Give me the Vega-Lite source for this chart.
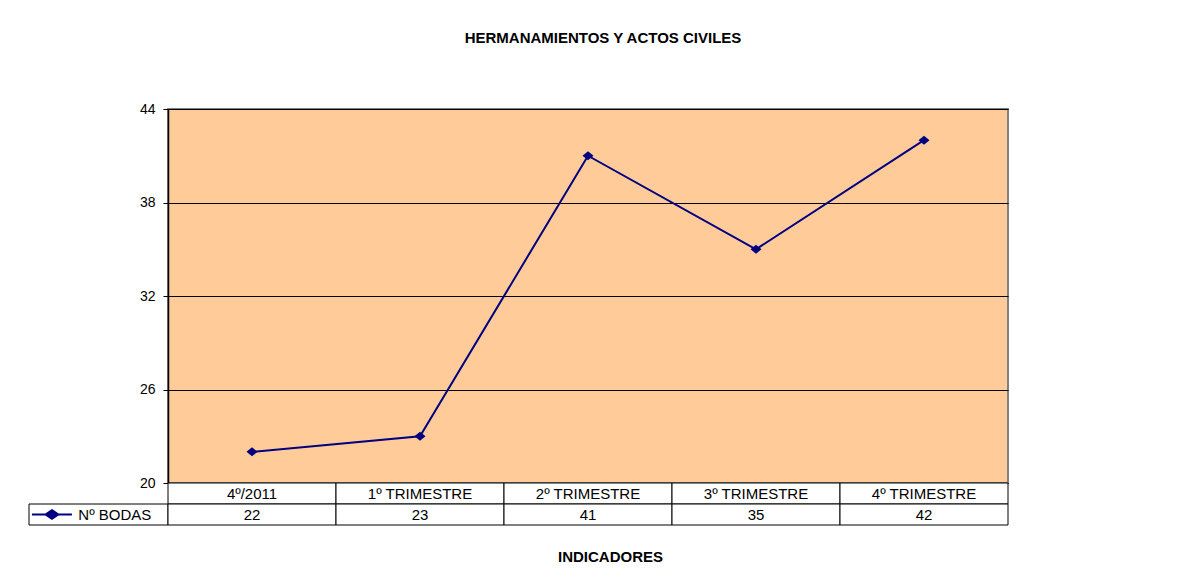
{
  "$schema": "https://vega.github.io/schema/vega-lite/v6.json",
  "autosize": {"type": "pad"},
  "padding": {"left": 27, "top": 30, "right": 20, "bottom": 10},
  "background": "white",
  "datasets": {
    "bodas": [
      {"periodo": "4º/2011", "valor": 22},
      {"periodo": "1º TRIMESTRE", "valor": 23},
      {"periodo": "2º TRIMESTRE", "valor": 41},
      {"periodo": "3º TRIMESTRE", "valor": 35},
      {"periodo": "4º TRIMESTRE", "valor": 42}
    ],
    "leyenda": [{"serie": "Nº BODAS"}]
  },
  "columns": 2,
  "spacing": 0,
  "bounds": "flush",
  "align": "each",
  "concat": [
    {
      "width": 139,
      "height": 374,
      "data": {"values": []},
      "mark": "point",
      "encoding": {}
    },
    {
      "width": 840,
      "height": 374,
      "data": {"name": "bodas"},
      "view": {"fill": "#FFCC99", "stroke": "#808080", "strokeWidth": 2},
      "title": {
        "text": "HERMANAMIENTOS Y ACTOS CIVILES",
        "fontSize": 15,
        "fontWeight": "bold",
        "font": "Liberation Sans",
        "color": "black",
        "anchor": "middle",
        "offset": 56,
        "dx": 15
      },
      "encoding": {
        "x": {
          "field": "periodo",
          "type": "nominal",
          "sort": null,
          "scale": {"type": "point", "padding": 0.5},
          "axis": null
        },
        "y": {
          "field": "valor",
          "type": "quantitative",
          "scale": {"domain": [20, 44], "nice": false, "zero": false},
          "axis": {
            "values": [20, 26, 32, 38, 44],
            "grid": true,
            "gridColor": "black",
            "gridOpacity": 1,
            "gridWidth": 1,
            "domainColor": "black",
            "domainWidth": 1.5,
            "tickColor": "black",
            "tickSize": 5,
            "labelFontSize": 14,
            "labelColor": "black",
            "labelPadding": 8,
            "title": null
          }
        }
      },
      "layer": [
        {"mark": {"type": "line", "color": "#000080", "strokeWidth": 2}},
        {
          "mark": {
            "type": "point",
            "shape": "M0,-0.82L1,0L0,0.82L-1,0Z",
            "size": 121,
            "filled": true,
            "color": "#000080",
            "opacity": 1
          }
        }
      ]
    },
    {
      "width": 139,
      "height": 42,
      "data": {"name": "leyenda"},
      "encoding": {
        "x": {
          "field": "serie",
          "type": "nominal",
          "scale": {"type": "band", "paddingInner": 0, "paddingOuter": 0},
          "axis": null
        },
        "y": {
          "datum": "valor",
          "type": "nominal",
          "scale": {"domain": ["periodo", "valor"], "paddingInner": 0, "paddingOuter": 0},
          "axis": null
        }
      },
      "layer": [
        {"mark": {"type": "rect", "fill": "white", "stroke": "black", "strokeWidth": 1}},
        {
          "mark": {
            "type": "point",
            "shape": "M-1,0H1M0,-0.22L0.32,0L0,0.22L-0.32,0Z",
            "size": 1600,
            "filled": true,
            "fill": "#000080",
            "stroke": "#000080",
            "strokeWidth": 2,
            "opacity": 1
          },
          "encoding": {
            "x": {"field": "serie", "type": "nominal", "bandPosition": 0.165},
            "y": {"datum": "valor", "type": "nominal", "bandPosition": 0.5}
          }
        },
        {
          "mark": {"type": "text", "align": "left", "baseline": "middle", "fontSize": 15, "color": "black"},
          "encoding": {
            "x": {"field": "serie", "type": "nominal", "bandPosition": 0.355},
            "y": {"datum": "valor", "type": "nominal", "bandPosition": 0.5},
            "text": {"field": "serie"}
          }
        }
      ]
    },
    {
      "width": 840,
      "height": 42,
      "data": {"name": "bodas"},
      "transform": [{"fold": ["periodo", "valor"], "as": ["fila", "texto"]}],
      "encoding": {
        "x": {
          "field": "periodo",
          "type": "nominal",
          "sort": null,
          "scale": {"type": "band", "paddingInner": 0, "paddingOuter": 0},
          "axis": {
            "title": "INDICADORES",
            "labels": false,
            "ticks": false,
            "domain": false,
            "titleFontSize": 15,
            "titleFontWeight": "bold",
            "titleColor": "black",
            "titlePadding": 24,
            "titleX": 442
          }
        },
        "y": {
          "field": "fila",
          "type": "nominal",
          "scale": {"domain": ["periodo", "valor"], "paddingInner": 0, "paddingOuter": 0},
          "axis": null
        }
      },
      "layer": [
        {"mark": {"type": "rect", "fill": "white", "stroke": "black", "strokeWidth": 1}},
        {
          "mark": {"type": "text", "fontSize": 15, "color": "black", "baseline": "middle", "align": "center"},
          "encoding": {
            "x": {"field": "periodo", "type": "nominal", "sort": null, "bandPosition": 0.5},
            "y": {"field": "fila", "type": "nominal", "bandPosition": 0.5},
            "text": {"field": "texto"}
          }
        }
      ]
    }
  ],
  "config": {
    "view": {"stroke": null},
    "font": "Liberation Sans",
    "axis": {"labelFont": "Liberation Sans", "titleFont": "Liberation Sans"}
  }
}
